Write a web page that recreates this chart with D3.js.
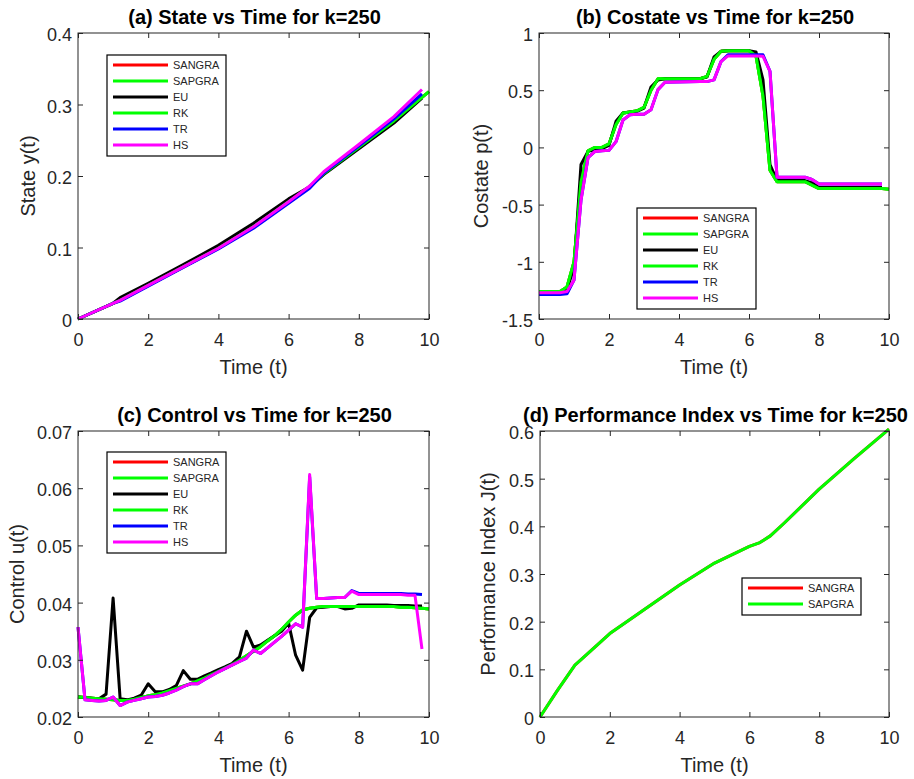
<!DOCTYPE html>
<html>
<head>
<meta charset="utf-8">
<script src="https://cdn.jsdelivr.net/npm/d3@7"></script>
<style>
body { margin: 0; background: #fff; }
svg { font-family: Arial, "Liberation Sans", sans-serif; }
</style>
</head>
<body>
<svg id="chart" width="914" height="779"></svg>
<script>
// ---- DATA ----
const methods = ['SANGRA', 'SAPGRA', 'EU', 'RK', 'TR', 'HS'];
const xTicks = [0, 2, 4, 6, 8, 10];

// (a) state
const timeA = [0, 1, 1.2, 2, 3, 4, 5, 6, 6.6, 7, 8, 9, 9.8, 10];
const stateSAPGRA = [0, 0.022, 0.026, 0.047, 0.073, 0.099, 0.129, 0.164, 0.185, 0.203, 0.240, 0.277, 0.310, 0.318];
const stateSANGRA = stateSAPGRA;
const stateRK = stateSAPGRA;
const stateEU = [0, 0.022, 0.030, 0.050, 0.076, 0.103, 0.134, 0.168, 0.185, 0.202, 0.238, 0.274, 0.309, null];
const stateTR = [0, 0.022, 0.025, 0.046, 0.072, 0.098, 0.127, 0.162, 0.183, 0.204, 0.242, 0.280, 0.315, null];
const stateHS = [0, 0.022, 0.026, 0.047, 0.073, 0.099, 0.129, 0.164, 0.186, 0.206, 0.244, 0.283, 0.321, null];
const stateTicks = [0, 0.1, 0.2, 0.3, 0.4];

// (b) costate
const timeB = [0, 0.6, 0.8, 1, 1.2, 1.4, 1.6, 1.8, 2, 2.2, 2.4, 2.6, 2.8, 3, 3.2, 3.4, 3.6, 4.6, 4.8, 5, 5.2, 5.4, 6, 6.2, 6.4, 6.6, 6.8, 7.6, 7.8, 8, 9.8, 10];
const costateSAPGRA = [-1.26, -1.26, -1.22, -1.0, -0.3, -0.03, 0.0, 0.0, 0.03, 0.2, 0.3, 0.31, 0.32, 0.35, 0.5, 0.6, 0.6, 0.6, 0.62, 0.77, 0.84, 0.845, 0.845, 0.8, 0.45, -0.2, -0.3, -0.3, -0.33, -0.36, -0.36, -0.365];
const costateSANGRA = costateSAPGRA;
const costateRK = costateSAPGRA;
const costateEU = [-1.27, -1.27, -1.24, -1.05, -0.15, -0.035, -0.02, -0.01, 0.018, 0.228, 0.30, 0.31, 0.315, 0.344, 0.528, 0.59, 0.60, 0.60, 0.615, 0.79, 0.84, 0.845, 0.845, 0.835, 0.59, -0.15, -0.29, -0.29, -0.31, -0.35, -0.35, null];
const costateTR = [-1.285, -1.285, -1.28, -1.16, -0.46, -0.09, -0.035, -0.03, -0.026, 0.05, 0.24, 0.285, 0.29, 0.29, 0.33, 0.505, 0.57, 0.575, 0.575, 0.59, 0.75, 0.81, 0.81, 0.81, 0.81, 0.665, -0.26, -0.26, -0.28, -0.32, -0.32, null];
const costateHS = [-1.27, -1.27, -1.26, -1.16, -0.46, -0.09, -0.035, -0.03, -0.026, 0.05, 0.24, 0.285, 0.29, 0.29, 0.33, 0.505, 0.57, 0.575, 0.575, 0.59, 0.75, 0.80, 0.80, 0.80, 0.796, 0.665, -0.26, -0.26, -0.28, -0.32, -0.32, null];
const costateTicks = [-1.5, -1, -0.5, 0, 0.5, 1];

// (c) control
const timeC = [0, 0.2, 0.4, 0.6, 0.8, 1, 1.2, 1.4, 1.6, 1.8, 2, 2.2, 2.4, 2.6, 2.8, 3, 3.2, 3.4, 3.6, 3.8, 4, 4.2, 4.4, 4.6, 4.8, 5, 5.2, 5.4, 5.6, 5.8, 6, 6.2, 6.4, 6.6, 6.8, 7, 7.2, 7.4, 7.6, 7.8, 8, 8.2, 8.4, 8.6, 8.8, 9, 9.2, 9.4, 9.6, 9.8, 10];
const controlSAPGRA = [0.0235, 0.0234, 0.0233, 0.0232, 0.0231, 0.0230, 0.0229, 0.0229, 0.0231, 0.0234, 0.0237, 0.0239, 0.0242, 0.0246, 0.0250, 0.0254, 0.0258, 0.0263, 0.0268, 0.0274, 0.0280, 0.0286, 0.0292, 0.0299, 0.0307, 0.0315, 0.0323, 0.0333, 0.0342, 0.0353, 0.0366, 0.0378, 0.0387, 0.0390, 0.0392, 0.0393, 0.0393, 0.0393, 0.0393, 0.0393, 0.0393, 0.0393, 0.0393, 0.0393, 0.0393, 0.0393, 0.0392, 0.0392, 0.0391, 0.0390, 0.0389];
const controlSANGRA = controlSAPGRA;
const controlRK = controlSAPGRA;
const controlEU = [0.0235, 0.0234, 0.0233, 0.0232, 0.0240, 0.0408, 0.0232, 0.0230, 0.0233, 0.0238, 0.0258, 0.0244, 0.0244, 0.0248, 0.0255, 0.0281, 0.0266, 0.0266, 0.0272, 0.0277, 0.0283, 0.0288, 0.0294, 0.0305, 0.0350, 0.0322, 0.0326, 0.0334, 0.0342, 0.0350, 0.0364, 0.0308, 0.0282, 0.0374, 0.0391, 0.0392, 0.0393, 0.0393, 0.0389, 0.0390, 0.0396, 0.0396, 0.0396, 0.0396, 0.0396, 0.0395, 0.0395, 0.0395, 0.0394, 0.0394, null];
const controlTR = [0.0357, 0.0230, 0.0229, 0.0228, 0.0229, 0.0235, 0.0220, 0.0226, 0.0229, 0.0232, 0.0235, 0.0236, 0.0238, 0.0242, 0.0247, 0.0253, 0.0258, 0.0258, 0.0265, 0.0272, 0.0279, 0.0285, 0.0291, 0.0297, 0.0303, 0.0317, 0.0311, 0.0321, 0.0331, 0.0341, 0.0352, 0.0363, 0.0357, 0.0620, 0.0407, 0.0407, 0.0408, 0.0409, 0.0409, 0.0421, 0.0416, 0.0416, 0.0416, 0.0416, 0.0416, 0.0416, 0.0416, 0.0415, 0.0415, 0.0414, null];
const controlHS = [0.0357, 0.0230, 0.0229, 0.0228, 0.0229, 0.0235, 0.0220, 0.0226, 0.0229, 0.0232, 0.0235, 0.0236, 0.0238, 0.0242, 0.0247, 0.0253, 0.0258, 0.0258, 0.0265, 0.0272, 0.0279, 0.0285, 0.0291, 0.0297, 0.0303, 0.0317, 0.0311, 0.0321, 0.0331, 0.0341, 0.0352, 0.0363, 0.0357, 0.0624, 0.0407, 0.0407, 0.0408, 0.0409, 0.0409, 0.0420, 0.0414, 0.0414, 0.0414, 0.0414, 0.0414, 0.0414, 0.0414, 0.0413, 0.0413, 0.0319, null];
const controlTicks = [0.02, 0.03, 0.04, 0.05, 0.06, 0.07];

// (d) performance index
const timeD = [0, 0.5, 1, 1.2, 2, 3, 4, 5, 6, 6.3, 6.6, 7, 8, 9, 10];
const perfSAPGRA = [0, 0.056, 0.109, 0.122, 0.175, 0.226, 0.277, 0.323, 0.358, 0.366, 0.380, 0.407, 0.478, 0.542, 0.604];
const perfSANGRA = perfSAPGRA;
const perfTicks = [0, 0.1, 0.2, 0.3, 0.4, 0.5, 0.6];

// ---- STYLE / LAYOUT ----
const colors = {SANGRA: '#ff0000', SAPGRA: '#00ff00', EU: '#000000', RK: '#00ff00', TR: '#0000ff', HS: '#ff00ff'};
const ink = '#262626';

const panels = [
	{title: '(a) State vs Time for k=250', ylabel: 'State y(t)', left: 78, top: 33, width: 351, height: 286,
		yDomain: [0, 0.4], yTicks: stateTicks, ylabelX: 35, time: timeA,
		series: {SANGRA: stateSANGRA, SAPGRA: stateSAPGRA, EU: stateEU, RK: stateRK, TR: stateTR, HS: stateHS},
		legend: [107, 55]},
	{title: '(b) Costate vs Time for k=250', ylabel: 'Costate p(t)', left: 539, top: 33, width: 350, height: 286,
		yDomain: [-1.5, 1], yTicks: costateTicks, ylabelX: 488, time: timeB,
		series: {SANGRA: costateSANGRA, SAPGRA: costateSAPGRA, EU: costateEU, RK: costateRK, TR: costateTR, HS: costateHS},
		legend: [637, 208]},
	{title: '(c) Control vs Time for k=250', ylabel: 'Control u(t)', left: 78, top: 431, width: 351, height: 286,
		yDomain: [0.02, 0.07], yTicks: controlTicks, ylabelX: 24, time: timeC,
		series: {SANGRA: controlSANGRA, SAPGRA: controlSAPGRA, EU: controlEU, RK: controlRK, TR: controlTR, HS: controlHS},
		legend: [107, 452]},
	{title: '(d) Performance Index vs Time for k=250', ylabel: 'Performance Index J(t)', left: 540, top: 431, width: 349, height: 286,
		yDomain: [0, 0.6], yTicks: perfTicks, ylabelX: 495, time: timeD,
		series: {SANGRA: perfSANGRA, SAPGRA: perfSAPGRA},
		legend: [742, 578]}
];

const svg = d3.select('#chart');
const fmt = d => String(+d.toFixed(3));

function styleAxis(sel, labels) {
	sel.select('.domain').remove();
	sel.selectAll('.tick line').attr('stroke', ink);
	sel.selectAll('.tick text')
		.attr('fill', ink)
		.attr('font-size', labels ? 18 : 0)
		.attr('font-family', 'Arial, "Liberation Sans", sans-serif');
}

function drawPanel(p) {
	let x = d3.scaleLinear().domain([0, 10]).range([p.left, p.left + p.width]);
	let y = d3.scaleLinear().domain(p.yDomain).range([p.top + p.height, p.top]);
	let g = svg.append('g');

	g.append('rect')
		.attr('x', p.left).attr('y', p.top)
		.attr('width', p.width).attr('height', p.height)
		.attr('fill', '#fff');

	// lines
	let line = d3.line()
		.defined(d => d[1] != null)
		.x(d => x(d[0]))
		.y(d => y(d[1]));

	let names = methods.filter(m => p.series[m]);
	names.forEach(function(m) {
		let pts = p.time.map((t, i) => [t, p.series[m][i]]);
		g.append('path')
			.datum(pts)
			.attr('d', line)
			.attr('fill', 'none')
			.attr('stroke', colors[m])
			.attr('stroke-width', 3)
			.attr('stroke-linejoin', 'round');
	});

	// axes, ticks inside on all four sides
	g.append('g').attr('transform', 'translate(0,' + (p.top + p.height) + ')')
		.call(d3.axisBottom(x).tickValues(xTicks).tickSizeInner(-5).tickSizeOuter(0).tickPadding(14).tickFormat(fmt))
		.call(s => styleAxis(s, true));
	g.append('g').attr('transform', 'translate(0,' + p.top + ')')
		.call(d3.axisTop(x).tickValues(xTicks).tickSizeInner(-5).tickSizeOuter(0).tickFormat(''))
		.call(s => styleAxis(s, false));
	g.append('g').attr('transform', 'translate(' + p.left + ',0)')
		.call(d3.axisLeft(y).tickValues(p.yTicks).tickSizeInner(-5).tickSizeOuter(0).tickPadding(6).tickFormat(fmt))
		.call(s => styleAxis(s, true))
		.call(s => s.selectAll('.tick text').attr('dy', '0.42em'));
	g.append('g').attr('transform', 'translate(' + (p.left + p.width) + ',0)')
		.call(d3.axisRight(y).tickValues(p.yTicks).tickSizeInner(-5).tickSizeOuter(0).tickFormat(''))
		.call(s => styleAxis(s, false));

	g.append('rect')
		.attr('x', p.left).attr('y', p.top)
		.attr('width', p.width).attr('height', p.height)
		.attr('fill', 'none')
		.attr('stroke', ink);

	// texts
	g.append('text')
		.attr('x', p.left + p.width / 2 + 1).attr('y', p.top - 9)
		.attr('text-anchor', 'middle')
		.attr('font-size', 20).attr('font-weight', 'bold')
		.attr('fill', '#000')
		.text(p.title);

	g.append('text')
		.attr('x', p.left + p.width / 2).attr('y', p.top + p.height + 55)
		.attr('text-anchor', 'middle')
		.attr('font-size', 20)
		.attr('fill', ink)
		.text('Time (t)');

	g.append('text')
		.attr('transform', 'translate(' + p.ylabelX + ',' + (p.top + p.height / 2) + ') rotate(-90)')
		.attr('text-anchor', 'middle')
		.attr('font-size', 20)
		.attr('fill', ink)
		.text(p.ylabel);

	// legend
	let lx = p.legend[0], ly = p.legend[1];
	let lg = g.append('g').attr('transform', 'translate(' + lx + ',' + ly + ')');
	lg.append('rect')
		.attr('width', 119).attr('height', names.length * 16 + 5)
		.attr('fill', '#fff').attr('stroke', '#000').attr('stroke-width', 1.2);
	names.forEach(function(m, i) {
		let yy = 10 + i * 16;
		lg.append('line')
			.attr('x1', 6).attr('x2', 61)
			.attr('y1', yy).attr('y2', yy)
			.attr('stroke', colors[m]).attr('stroke-width', 3);
		lg.append('text')
			.attr('x', 66).attr('y', yy).attr('dy', '0.35em')
			.attr('font-size', 11).attr('fill', ink)
			.text(m);
	});
}

panels.forEach(drawPanel);
</script>
</body>
</html>
